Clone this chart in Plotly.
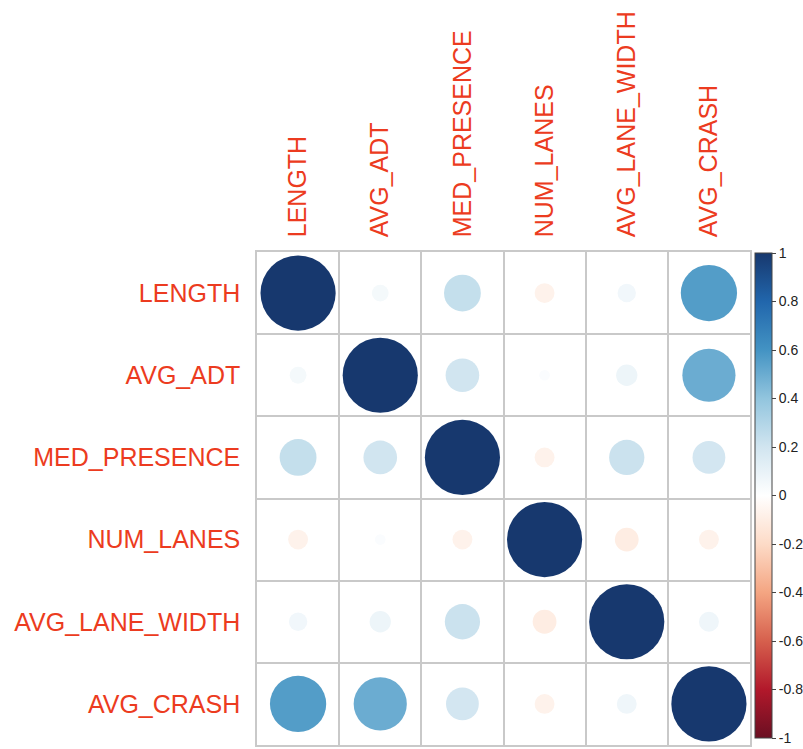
import numpy as np
import plotly.graph_objects as go

# Variables in the correlation matrix
variables = ["LENGTH", "AVG_ADT", "MED_PRESENCE", "NUM_LANES", "AVG_LANE_WIDTH", "AVG_CRASH"]

# Pearson correlations, one row per variable
corr_length = [1.00, 0.05, 0.24, -0.07, 0.06, 0.56]
corr_avg_adt = [0.05, 1.00, 0.20, 0.02, 0.08, 0.50]
corr_med_presence = [0.24, 0.20, 1.00, -0.07, 0.22, 0.19]
corr_num_lanes = [-0.07, 0.02, -0.07, 1.00, -0.10, -0.07]
corr_avg_lane_width = [0.06, 0.08, 0.22, -0.10, 1.00, 0.07]
corr_avg_crash = [0.56, 0.50, 0.19, -0.07, 0.07, 1.00]

rows = [corr_length, corr_avg_adt, corr_med_presence,
        corr_num_lanes, corr_avg_lane_width, corr_avg_crash]

# Colour bar ticks
cbar_ticks = [1, 0.8, 0.6, 0.4, 0.2, 0, -0.2, -0.4, -0.6, -0.8, -1]

# Diverging red-white-blue palette
rdbu = [
    [0.0, "#6a0f22"], [0.1, "#b2182b"], [0.2, "#d6604d"], [0.3, "#f4a582"],
    [0.4, "#fddbc7"], [0.5, "#ffffff"], [0.6, "#d1e5f0"], [0.7, "#92c5de"],
    [0.8, "#4393c3"], [0.9, "#2166ac"], [1.0, "#17386e"],
]

n = len(variables)
W, H = 803, 749
ML, MR, MT, MB = 257, 53, 252, 4
plot_px = W - ML - MR
cell_px = plot_px / n
max_diam = cell_px * 0.915

xs, ys, vals = [], [], []
for i, row in enumerate(rows):
    for j, v in enumerate(row):
        xs.append(j)
        ys.append(i)
        vals.append(v)
vals = np.array(vals)
sizes = max_diam * np.sqrt(np.abs(vals))

label_red = "#ec3b20"
font_family = "Liberation Sans, Arial, sans-serif"

# Colour bar spans slightly less than the grid so the bottom label stays on the page
cbar_top_px, cbar_bottom_px = 1, 7

fig = go.Figure()
fig.add_trace(go.Scatter(
    x=xs, y=ys, mode="markers",
    marker=dict(
        size=sizes, sizemode="diameter", color=vals,
        colorscale=rdbu, cmin=-1, cmax=1, line=dict(width=0), opacity=1,
        showscale=True,
        colorbar=dict(
            x=1 + 5 / plot_px, xanchor="left", xpad=0, ypad=0,
            y=1 - cbar_top_px / plot_px, yanchor="top",
            len=1 - (cbar_top_px + cbar_bottom_px) / plot_px, lenmode="fraction",
            thickness=17, outlinewidth=1, outlinecolor="#444444",
            tickmode="array", tickvals=cbar_ticks,
            ticktext=[f"{t:g}" for t in cbar_ticks],
            ticks="outside", ticklen=4, tickcolor="#444444",
            ticklabeloverflow="allow",
            tickfont=dict(size=14, color="#222222", family=font_family),
        ),
    ),
    hoverinfo="skip", showlegend=False,
))

grid_color = "#c9c9c9"
boundaries = [k - 0.5 for k in range(1, n)]

fig.update_xaxes(
    range=[-0.5, n - 0.5], side="top", tickmode="array",
    tickvals=list(range(n)), ticktext=variables, tickangle=-90,
    tickfont=dict(size=25, color=label_red, family=font_family),
    ticks="", ticklabelstandoff=8, showgrid=False, zeroline=False,
    showline=True, mirror=True, linecolor=grid_color, linewidth=1.5,
    minor=dict(tickvals=boundaries, showgrid=True, gridcolor=grid_color,
               gridwidth=1.5, ticks=""),
)
fig.update_yaxes(
    range=[n - 0.5, -0.5], tickmode="array",
    tickvals=list(range(n)), ticktext=variables,
    tickfont=dict(size=25, color=label_red, family=font_family),
    ticks="", ticklabelstandoff=10, showgrid=False, zeroline=False,
    showline=True, mirror=True, linecolor=grid_color, linewidth=1.5,
    minor=dict(tickvals=boundaries, showgrid=True, gridcolor=grid_color,
               gridwidth=1.5, ticks=""),
)

fig.update_layout(
    width=W, height=H, autosize=False,
    margin=dict(l=ML, r=MR, t=MT, b=MB, pad=0, autoexpand=False),
    paper_bgcolor="white", plot_bgcolor="white",
    font=dict(family=font_family),
)

fig.write_html("out.html")
